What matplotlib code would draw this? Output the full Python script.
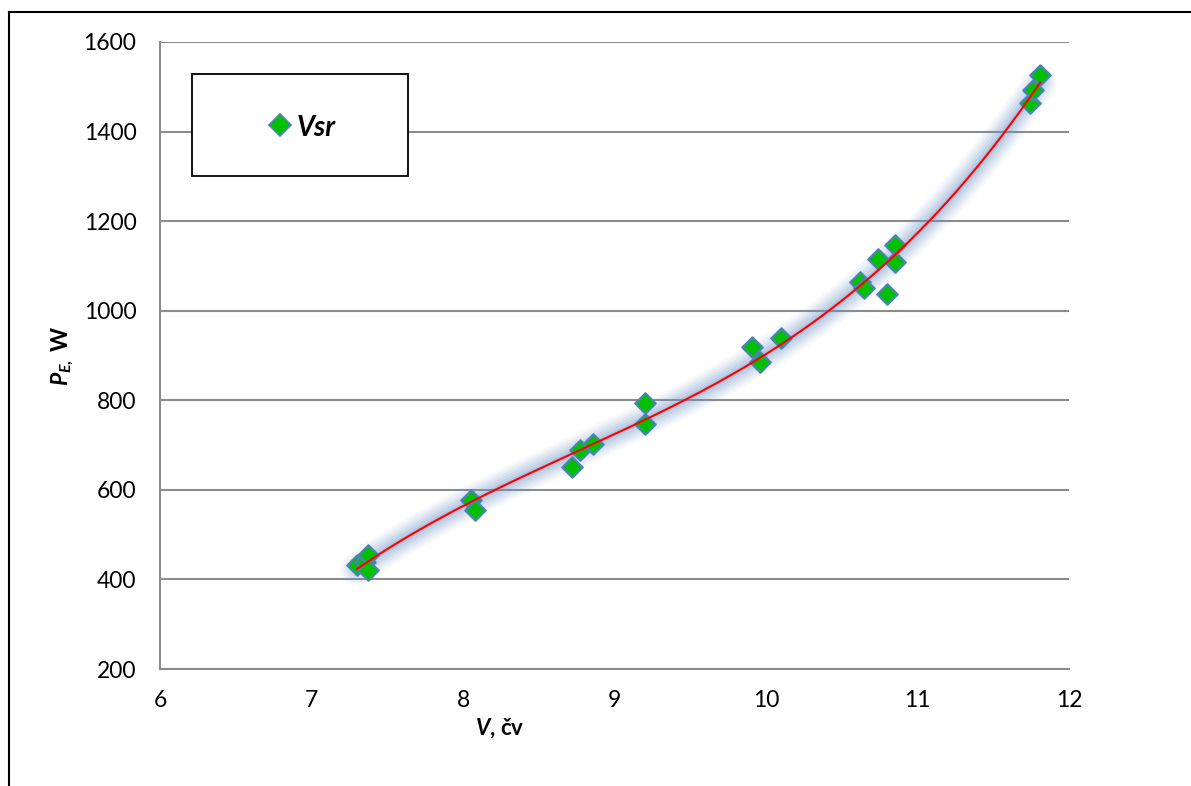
import numpy as np
import matplotlib
matplotlib.use("Agg")
import matplotlib.pyplot as plt
from matplotlib.lines import Line2D
from matplotlib.patches import Rectangle

plt.rcParams['font.family'] = ['Lato', 'DejaVu Sans']
plt.rcParams['mathtext.fontset'] = 'custom'
plt.rcParams['mathtext.it'] = 'Lato:italic:bold'
plt.rcParams['mathtext.rm'] = 'Lato:bold'
plt.rcParams['mathtext.bf'] = 'Lato:bold'

# Data (wind speed V, power P_E)
v = [7.30, 7.35, 7.37, 7.37, 8.05, 8.08, 8.72, 8.77, 8.86, 9.20, 9.20,
     9.91, 9.96, 10.10, 10.62, 10.65, 10.80, 10.74, 10.85, 10.85,
     11.74, 11.76, 11.81]
p = [432, 440, 455, 421, 578, 555, 652, 690, 702, 793, 747,
     920, 886, 938, 1064, 1050, 1037, 1116, 1146, 1108,
     1463, 1493, 1526]

xticks = [6, 7, 8, 9, 10, 11, 12]
yticks = [200, 400, 600, 800, 1000, 1200, 1400, 1600]
series_name = 'Vsr'

W, H = 1191, 786
fig = plt.figure(figsize=(W / 100, H / 100), dpi=100)
AX_L, AX_R, AX_T, AX_B = 160, 1069, 42, 669
ax = fig.add_axes([AX_L / W, 1 - AX_B / H, (AX_R - AX_L) / W, (AX_B - AX_T) / H])

def axc(px, py):
    return ((px - AX_L) / (AX_R - AX_L), (AX_B - py) / (AX_B - AX_T))

ax.set_xlim(6, 12)
ax.set_ylim(200, 1600)
ax.set_xticks(xticks)
ax.set_yticks(yticks)
ax.tick_params(length=0, labelsize=16.5, labelcolor='black')
ax.tick_params(axis='x', pad=15)
ax.tick_params(axis='y', pad=17)

for s in ['top', 'right']:
    ax.spines[s].set_visible(False)
for s in ['left', 'bottom']:
    ax.spines[s].set_color('#8c8c8c')
    ax.spines[s].set_linewidth(1.5)
ax.grid(axis='y', color='#8c8c8c', linewidth=1.5)
ax.set_axisbelow(True)

# trend line (polynomial fit) with glow
coef = np.polyfit(v, p, 3)
xx = np.linspace(min(v), max(v), 300)
yy = np.polyval(coef, xx)
for lw, a in [(24, 0.06), (20, 0.08), (16, 0.10), (12, 0.12), (8, 0.15), (4, 0.2)]:
    ax.plot(xx, yy, color='#6f95c8', linewidth=lw, alpha=a, solid_capstyle='round', zorder=2)

ax.scatter(v, p, marker='D', s=110, facecolor='#00c000', edgecolor='#4f81bd',
           linewidth=1.5, zorder=3)
ax.plot(xx, yy, color='#ff0000', linewidth=1.5, zorder=4)

ax.set_xlabel(r'$V$, čv', fontsize=16, fontweight='bold')
ax.xaxis.set_label_coords(*axc(500, 716))
ax.set_ylabel(r'$P_{E,}$ W', fontsize=16.5, fontweight='bold')
ax.yaxis.set_label_coords(*axc(76, 356))

# legend box drawn manually
x0, y0 = axc(192, 176)
x1, y1 = axc(408, 74)
ax.add_patch(Rectangle((x0, y0), x1 - x0, y1 - y0, transform=ax.transAxes,
                       facecolor='white', edgecolor='black', linewidth=1.3,
                       zorder=5, clip_on=False))
mx, my = axc(280, 125)
ax.plot([mx], [my], marker='D', markersize=11, markerfacecolor='#00c000',
        markeredgecolor='#4f81bd', markeredgewidth=1.2, transform=ax.transAxes,
        zorder=6, clip_on=False)
tx, ty = axc(297, 125)
ax.text(tx, ty, series_name, transform=ax.transAxes, fontsize=20,
        fontweight='bold', fontstyle='italic', ha='left', va='center_baseline', zorder=6)

# outer border (left and top)
fig.add_artist(Line2D([8.5 / W, 8.5 / W], [0, 1 - 12 / H], color='black', linewidth=1.5))
fig.add_artist(Line2D([8.5 / W, 1], [1 - 12 / H, 1 - 12 / H], color='black', linewidth=1.5))

fig.savefig('out.png', dpi=100)
